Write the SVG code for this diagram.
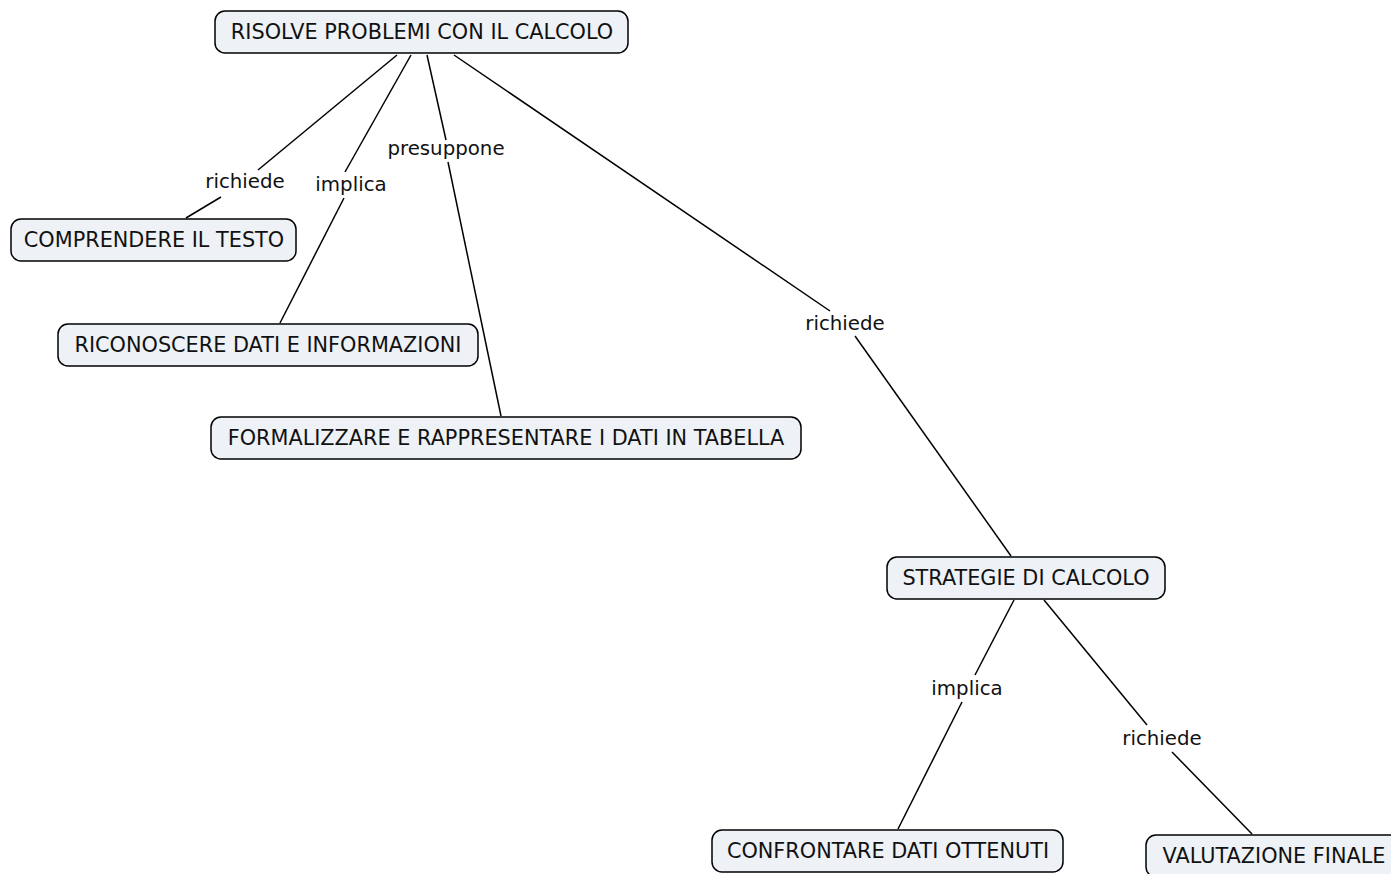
<svg xmlns="http://www.w3.org/2000/svg" width="1391" height="874" viewBox="0 0 1391 874">
<style>
.n rect{fill:#eef2f6;stroke:#000;stroke-width:1.5}
.n text{font-family:"DejaVu Sans",Verdana,sans-serif;font-size:20.8px;fill:#111;text-anchor:middle;dominant-baseline:central}
.c line{stroke:#000;stroke-width:1.5}
.c text{font-family:"DejaVu Sans",Verdana,sans-serif;font-size:19.8px;fill:#111;text-anchor:middle;dominant-baseline:central}
</style>
<rect width="1391" height="874" fill="#fff"/>
<g class="c" id="connectors">
<line x1="397" y1="55" x2="258" y2="170"/>
<line x1="221" y1="197" x2="186" y2="218"/>
<text x="245" y="181">richiede</text>
<line x1="411" y1="55" x2="345" y2="172"/>
<line x1="344" y1="198" x2="280" y2="323"/>
<text x="351" y="184">implica</text>
<line x1="427" y1="55" x2="446" y2="140"/>
<line x1="448" y1="162" x2="501" y2="416"/>
<text x="446" y="148">presuppone</text>
<line x1="454" y1="55" x2="830" y2="311"/>
<line x1="855" y1="336" x2="1011" y2="556"/>
<text x="845" y="323">richiede</text>
<line x1="1014" y1="600" x2="975" y2="675"/>
<line x1="962" y1="702" x2="898" y2="829"/>
<text x="967" y="688">implica</text>
<line x1="1044" y1="600" x2="1147" y2="725"/>
<line x1="1172" y1="752" x2="1252" y2="834"/>
<text x="1162" y="738">richiede</text>
</g>
<g class="n" id="n1"><rect x="215" y="11" width="413" height="42" rx="10"/><text x="422" y="32">RISOLVE PROBLEMI CON IL CALCOLO</text></g>
<g class="n" id="n2"><rect x="11" y="219" width="285" height="42" rx="10"/><text x="154" y="240">COMPRENDERE IL TESTO</text></g>
<g class="n" id="n3"><rect x="58" y="324" width="420" height="42" rx="10"/><text x="268" y="345">RICONOSCERE DATI E INFORMAZIONI</text></g>
<g class="n" id="n4"><rect x="211" y="417" width="590" height="42" rx="10"/><text x="506" y="438">FORMALIZZARE E RAPPRESENTARE I DATI IN TABELLA</text></g>
<g class="n" id="n5"><rect x="887" y="557" width="278" height="42" rx="10"/><text x="1026" y="578">STRATEGIE DI CALCOLO</text></g>
<g class="n" id="n6"><rect x="712" y="830" width="351" height="42" rx="10"/><text x="888" y="851">CONFRONTARE DATI OTTENUTI</text></g>
<g class="n" id="n7"><rect x="1146" y="835" width="262" height="42" rx="10"/><text x="1274" y="856">VALUTAZIONE FINALE</text></g>
</svg>
